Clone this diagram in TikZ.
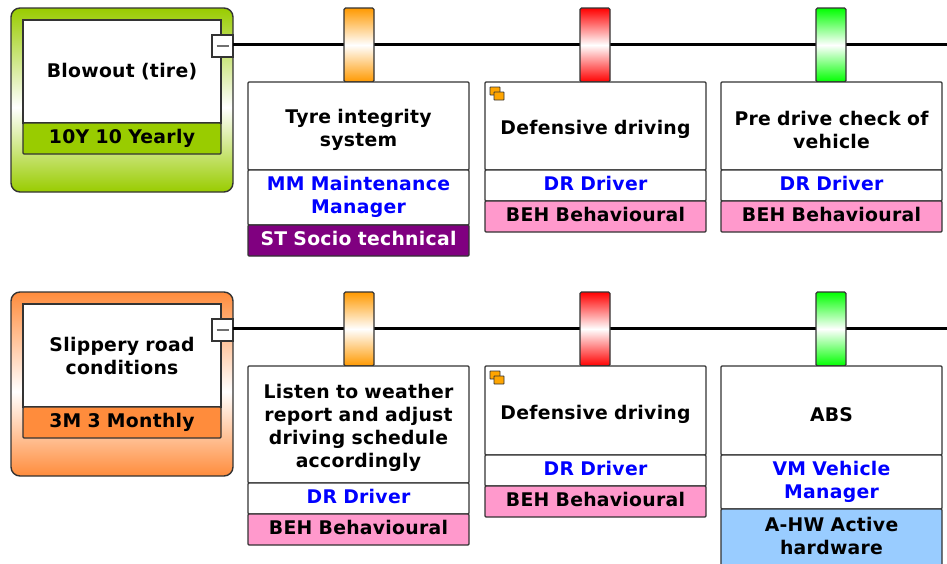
\documentclass[tikz,border=0pt]{standalone}
\usepackage{fontspec}
\setmainfont[LetterSpace=1.5]{DejaVu Sans}
\definecolor{linegrey}{HTML}{333333}
\definecolor{yearly}{HTML}{99CC00}
\definecolor{monthly}{HTML}{FF8C3C}
\definecolor{behav}{HTML}{FF99CC}
\definecolor{socio}{HTML}{800080}
\definecolor{hardw}{HTML}{99CCFF}
\definecolor{lowbar}{HTML}{FF9900}
\definecolor{iconfill}{HTML}{FFA500}
\pgfdeclareverticalshading{yearlyfade}{100bp}{color(0bp)=(yearly); color(25bp)=(yearly); color(48bp)=(white); color(75bp)=(yearly); color(100bp)=(yearly)}
\pgfdeclareverticalshading{monthlyfade}{100bp}{color(0bp)=(monthly); color(25bp)=(monthly); color(48bp)=(white); color(75bp)=(monthly); color(100bp)=(monthly)}
\tikzset{
    boxed/.style={draw=linegrey, line width=1.3pt, inner sep=0pt, outer sep=0pt, anchor=north west, align=center, font=\fontsize{18.8}{23}\selectfont\bfseries},
    threat/.style={boxed, rounded corners=9pt, line width=1.4pt, minimum width=222pt, minimum height=184pt},
    title/.style={boxed, fill=white, text width=198pt, minimum height=103pt},
    freq/.style={boxed, rounded corners=1pt, text width=198pt, minimum height=31pt},
    barrier/.style={boxed, rounded corners=1.5pt, minimum width=30pt, minimum height=74pt, middle color=white},
    card/.style={boxed, fill=white, rounded corners=1pt, text width=221pt},
    maincard/.style={card, execute at begin node={\rule{0pt}{22pt}}},
    lowcard/.style={card, execute at end node={\rule[-4.5pt]{0pt}{4.5pt}}},
    owner/.style={lowcard, text=blue},
    behaviour/.style={lowcard, fill=behav, minimum height=31pt},
    fold/.style={draw=linegrey, line width=.9pt, fill=iconfill, rounded corners=.5pt, minimum width=10pt, minimum height=8pt, inner sep=0pt, outer sep=0pt, anchor=north west},
    minusbox/.style={draw=linegrey, line width=1.1pt, fill=white, minimum width=21pt, minimum height=22pt, inner sep=0pt, outer sep=0pt, anchor=north west},
    spine/.style={draw=black, line width=3pt}
}
\begin{document}
\begin{tikzpicture}[x=1pt, y=-1pt]
    \clip (0, 0) rectangle (947, 563);

    % first row
    \node[threat, shading=yearlyfade] (threatA) at (11, 8) {};
    \node[title] (titleA) at (23, 20) {Blowout (tire)};
    \node[freq, fill=yearly] (freqA) at (23, 123) {10Y 10 Yearly};
    \node[minusbox] (minusA) at (212, 35) {};
    \draw[linegrey!70, line width=1.2pt] ([xshift=-6]minusA.center) -- ([xshift=6]minusA.center);
    \coordinate (endA) at (947, 44.5);
    \draw[spine] (minusA.east |- endA) -- (endA);

    \node[barrier, top color=lowbar, bottom color=lowbar, middle color=white] (barAa) at (344, 8) {};
    \node[barrier, top color=red, bottom color=red, middle color=white] (barAb) at (580, 8) {};
    \node[barrier, top color=green, bottom color=green, middle color=white] (barAc) at (816, 8) {};

    \node[maincard, minimum height=88pt] (cardAa) at (248, 82) {Tyre integrity\\system};
    \node[owner, minimum height=55pt] (ownAa) at (248, 170) {MM Maintenance\\Manager};
    \node[lowcard, fill=socio, text=white, minimum height=31pt] (catAa) at (248, 225) {ST Socio technical};

    \node[maincard, minimum height=88pt] (cardAb) at (485, 82) {Defensive driving};
    \node[fold] (foldAb) at (490, 87) {};
    \node[fold] (foldAbb) at (494, 92) {};
    \node[owner, minimum height=31pt] (ownAb) at (485, 170) {DR Driver};
    \node[behaviour] (catAb) at (485, 201) {BEH Behavioural};

    \node[maincard, minimum height=88pt] (cardAc) at (721, 82) {Pre drive check of\\vehicle};
    \node[owner, minimum height=31pt] (ownAc) at (721, 170) {DR Driver};
    \node[behaviour] (catAc) at (721, 201) {BEH Behavioural};

    % second row
    \node[threat, shading=monthlyfade] (threatB) at (11, 292) {};
    \node[title] (titleB) at (23, 304) {Slippery road\\conditions};
    \node[freq, fill=monthly] (freqB) at (23, 407) {3M 3 Monthly};
    \node[minusbox] (minusB) at (212, 319) {};
    \draw[linegrey!70, line width=1.2pt] ([xshift=-6]minusB.center) -- ([xshift=6]minusB.center);
    \coordinate (endB) at (947, 328.5);
    \draw[spine] (minusB.east |- endB) -- (endB);

    \node[barrier, top color=lowbar, bottom color=lowbar, middle color=white] (barBa) at (344, 292) {};
    \node[barrier, top color=red, bottom color=red, middle color=white] (barBb) at (580, 292) {};
    \node[barrier, top color=green, bottom color=green, middle color=white] (barBc) at (816, 292) {};

    \node[maincard, minimum height=117pt] (cardBa) at (248, 366) {Listen to weather\\report and adjust\\driving schedule\\accordingly};
    \node[owner, minimum height=31pt] (ownBa) at (248, 483) {DR Driver};
    \node[behaviour] (catBa) at (248, 514) {BEH Behavioural};

    \node[maincard, minimum height=89pt] (cardBb) at (485, 366) {Defensive driving};
    \node[fold] (foldBb) at (490, 371) {};
    \node[fold] (foldBbb) at (494, 376) {};
    \node[owner, minimum height=31pt] (ownBb) at (485, 455) {DR Driver};
    \node[behaviour] (catBb) at (485, 486) {BEH Behavioural};

    \node[maincard, minimum height=89pt] (cardBc) at (721, 366) {ABS};
    \node[owner, minimum height=54pt] (ownBc) at (721, 455) {VM Vehicle\\Manager};
    \node[lowcard, fill=hardw, minimum height=58pt] (catBc) at (721, 509) {A-HW Active\\hardware};
\end{tikzpicture}
\end{document}
